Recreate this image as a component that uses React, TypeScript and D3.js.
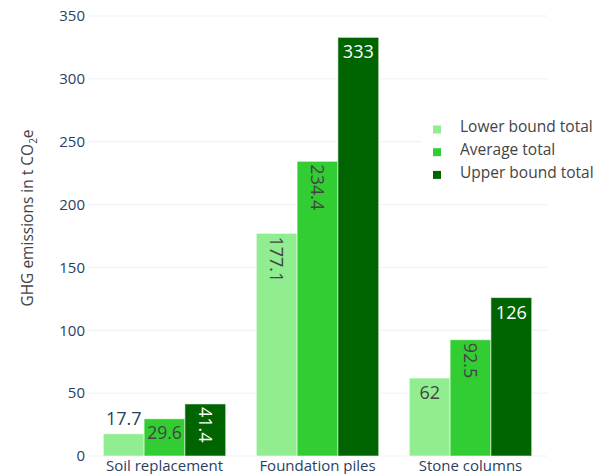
import React from "react";
import * as d3 from "d3";

const categories = ["Soil replacement", "Foundation piles", "Stone columns"];
const seriesNames = ["Lower bound total", "Average total", "Upper bound total"];
const lowerValues = [17.7, 177.1, 62];
const averageValues = [29.6, 234.4, 92.5];
const upperValues = [41.4, 333, 126];
const seriesValues = [lowerValues, averageValues, upperValues];
const seriesColors = ["#90ee90", "#32cd32", "#006400"];
const insideTextColors = ["#444444", "#444444", "#ffffff"];
const yTicks = [0, 50, 100, 150, 200, 250, 300, 350];

const W = 606;
const H = 474;
const FONT = "'Open Sans', 'DejaVu Sans', sans-serif";
const LABEL_SIZE = 18;
const TEXTPAD = 3;

function textWidth(s: string, size: number) {
  let w = 0;
  for (const c of s) {
    if (c === ".") w += 0.267;
    else w += 0.572;
  }
  return w * size;
}

export default function App() {
  const x = d3.scaleBand<string>().domain(categories).range([88, 547]).paddingInner(0.2).paddingOuter(0.1);
  const xs = d3.scaleBand<number>().domain([0, 1, 2]).range([0, x.bandwidth()]).padding(0);
  const y = d3.scaleLinear().domain([0, 350]).range([456, 16]);

  const bars: React.ReactNode[] = [];
  const labels: React.ReactNode[] = [];

  seriesValues.forEach((vals, si) => {
    vals.forEach((v, ci) => {
      const x0 = (x(categories[ci]) as number) + (xs(si) as number);
      const bw = xs.bandwidth();
      const y0 = y(v);
      const bh = y(0) - y0;
      bars.push(
        <rect
          key={`b${si}-${ci}`}
          x={x0}
          y={y0}
          width={bw}
          height={bh}
          fill={seriesColors[si]}
          stroke="rgba(255,255,255,0.55)"
          strokeWidth={1}
        />
      );
      const txt = String(v);
      const tw = textWidth(txt, LABEL_SIZE);
      const th = LABEL_SIZE * 1.3;
      const lx = bw - 2 * TEXTPAD;
      const ly = bh - 2 * TEXTPAD;
      const fitsInside = tw <= lx && th <= ly;
      const fitsRot = tw <= ly && th <= lx;
      const fitsShrunk = ly >= th * (lx / tw);
      const cx = x0 + bw / 2;
      if (fitsInside || fitsRot || fitsShrunk) {
        let rotate = false;
        if (!fitsInside && (tw > lx || th > ly) && (!(tw > ly || th > lx) || ((tw < th) !== (lx < ly)))) {
          rotate = true;
        }
        if (rotate) {
          const scale = Math.min(1, ly / tw, lx / th);
          const len = tw * scale;
          const cy = y0 + TEXTPAD + len / 2;
          labels.push(
            <text
              key={`t${si}-${ci}`}
              transform={`translate(${cx},${cy}) rotate(90) scale(${scale})`}
              textAnchor="middle"
              dy="0.35em"
              fontSize={LABEL_SIZE}
              fill={insideTextColors[si]}
            >
              {txt}
            </text>
          );
        } else {
          const scale = Math.min(1, lx / tw, ly / th);
          const cy = y0 + TEXTPAD + (th * scale) / 2;
          labels.push(
            <text
              key={`t${si}-${ci}`}
              transform={`translate(${cx},${cy}) scale(${scale})`}
              textAnchor="middle"
              dy="0.35em"
              fontSize={LABEL_SIZE}
              fill={insideTextColors[si]}
            >
              {txt}
            </text>
          );
        }
      } else {
        const cy = y0 - TEXTPAD - th / 2;
        labels.push(
          <text
            key={`t${si}-${ci}`}
            x={cx}
            y={cy}
            textAnchor="middle"
            dy="0.35em"
            fontSize={LABEL_SIZE}
            fill="#2a3f5f"
          >
            {txt}
          </text>
        );
      }
    });
  });

  return (
    <>
      <style>{`body{margin:0}`}</style>
      <svg width={W} height={H} style={{ display: "block", fontFamily: FONT }}>
        <rect width={W} height={H} fill="#ffffff" />
        {yTicks.map((t) => (
          <g key={t}>
            {t > 0 && <line x1={88} x2={547} y1={y(t)} y2={y(t)} stroke="#ebf0f8" strokeWidth={1} />}
            <text x={85} y={y(t)} dy="0.35em" textAnchor="end" fontSize={15} fill="#2a3f5f">
              {t}
            </text>
          </g>
        ))}
        <line x1={88} x2={547} y1={y(0)} y2={y(0)} stroke="#ebf0f8" strokeWidth={1} />
        {bars}
        {labels}
        {categories.map((c) => (
          <text
            key={c}
            x={(x(c) as number) + x.bandwidth() / 2}
            y={466}
            dy="0.35em"
            textAnchor="middle"
            fontSize={15}
            fill="#2a3f5f"
          >
            {c}
          </text>
        ))}
        <text transform={`translate(28,218) rotate(-90)`} textAnchor="middle" dy="0.35em" fontSize={15.5} fill="#444444">
          GHG emissions in t CO<tspan fontSize={10} dy="4">2</tspan>
          <tspan dy="-4">e</tspan>
        </text>
        <g>
          <rect x={422} y={113} width={180} height={76} fill="#ffffff" />
          {seriesNames.map((n, i) => (
            <g key={n} transform={`translate(0,${129.5 + i * 22.7})`}>
              <rect x={433} y={-4} width={8} height={8} fill={seriesColors[i]} />
              <text x={460} y={-2.5} dy="0.35em" fontSize={15.5} fill="#444444">
                {n}
              </text>
            </g>
          ))}
        </g>
      </svg>
    </>
  );
}
